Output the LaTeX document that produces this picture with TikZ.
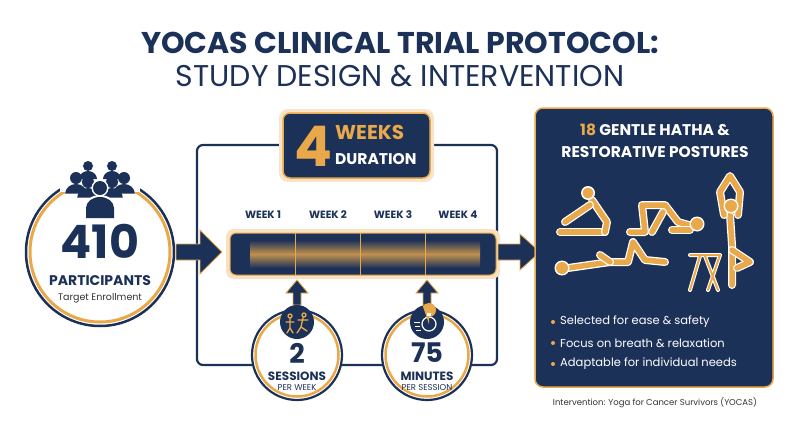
\documentclass[tikz,border=0pt]{standalone}
\usepackage{fontspec}
\setmainfont{Poppins}
\definecolor{navy}{HTML}{1C3158}
\definecolor{gold}{HTML}{E9A94B}
\definecolor{txt}{HTML}{333333}
\begin{document}
\begin{tikzpicture}[x=1pt,y=-1pt,every node/.style={inner sep=0pt},
 nv/.style={draw=navy,line width=2.2pt},
 lbl/.style={text=navy,font=\bfseries},
 fig/.style={draw=white,line width=8pt,line cap=round,line join=round,postaction={draw=gold,line width=5.5pt,line cap=round,line join=round}},
 arr/.style={fill=navy,draw=gold,line width=0.8pt}]
\useasboundingbox (0,0) rectangle (800,447);
\fill[white] (0,0) rectangle (800,447);
% title
\node[lbl,font=\bfseries\fontsize{30}{30}\selectfont] (t1) at (400,43) {YOCAS CLINICAL TRIAL PROTOCOL:};
\node[text=navy,font=\fontsize{30}{30}\selectfont] (t2) at (400,76) {STUDY DESIGN \& INTERVENTION};
% frame
\draw[nv,rounded corners=6] (197,145) rectangle (497,365);
% participants circle
\fill[white] (100,252) circle (75);
\draw[navy,line width=2.5pt] (100,252) circle (74);
\draw[gold,line width=3pt] (100,252) circle (70);
\fill[white] (60,160) rectangle (140,192);
\node[lbl,font=\bfseries\fontsize{46}{46}\selectfont] (n410) at (100,241) {410};
\node[lbl,font=\bfseries\fontsize{14}{14}\selectfont] (np) at (100,281) {PARTICIPANTS};
\node[text=txt,font=\fontsize{9.5}{9.5}\selectfont] (nt) at (100,298) {Target Enrollment};
% people icon
\foreach \x/\y/\r in {88/166/5,112/166/5,76/178/6,124/178/6,88/182/6,112/182/6}{
 \fill[navy] (\x,\y) circle (\r);
 \fill[navy] ({\x-1.8*\r},{\y+2.6*\r}) arc(180:360:{1.8*\r} and {1.6*\r}) -- cycle;}
\fill[white] (100,188) circle (8.5);
\fill[navy] (100,188) circle (7);
\fill[white] (84,219) -- (84,208) arc(180:360:16 and 13) -- (116,219) -- cycle;
\fill[navy] (86,218) -- (86,208) arc(180:360:14 and 11) -- (114,218) -- cycle;
% arrow in
\draw[arr] (176,244) -- (200,244) -- (200,230) -- (222,252) -- (200,274) -- (200,260) -- (176,260) -- cycle;
% 4 weeks box
\fill[gold!30,rounded corners=9] (279,109) rectangle (434,182);
\draw[fill=navy,draw=gold,line width=1.5pt,rounded corners=7] (283,113) rectangle (430,178);
\node[text=gold,font=\bfseries\fontsize{56}{56}\selectfont] (n4) at (313,146) {4};
\node[text=gold,font=\bfseries\fontsize{20}{20}\selectfont,anchor=west] (nw) at (335,132) {WEEKS};
\node[text=white,font=\bfseries\fontsize{15.5}{15.5}\selectfont,anchor=west] (nd) at (335,159) {DURATION};
% weeks
\foreach \i/\x in {1/263,2/328,3/393,4/458}
 \node[lbl,font=\bfseries\fontsize{10.5}{10.5}\selectfont] (w\i) at (\x,215) {WEEK \i};
\fill[gold!35,rounded corners=8] (226,229) rectangle (500,279);
\draw[fill=navy,draw=gold,line width=1pt,rounded corners=6] (230,233) rectangle (496,275);
\shade[top color=navy,bottom color=navy,middle color=gold!80!navy] (250,240) rectangle (480,268);
\foreach \x in {295,360,425} \draw[gold,line width=1pt] (\x,233) -- (\x,275);
% out arrow
\draw[arr] (498,244) -- (520,244) -- (520,234) -- (540,252) -- (520,270) -- (520,260) -- (498,260) -- cycle;
% small circles
\foreach \cx/\big/\a/\b in {297/2/SESSIONS/PER WEEK,427/75/MINUTES/PER SESSION}{
 \fill[white] (\cx,355) circle (46);
 \draw[navy,line width=2.2pt] (\cx,355) circle (45);
 \draw[gold,line width=2.5pt] (\cx,355) circle (41.5);
 \draw[arr] (\cx-4,305) -- (\cx-4,293) -- (\cx-11,293) -- (\cx,280) -- (\cx+11,293) -- (\cx+4,293) -- (\cx+4,305) -- cycle;
 \fill[navy] (\cx,322) circle (17);
 \node[lbl,font=\bfseries\fontsize{27}{27}\selectfont] at (\cx,353) {\big};
 \node[lbl,font=\bfseries\fontsize{12}{12}\selectfont] at (\cx,376) {\a};
 \node[text=navy,font=\fontsize{8.5}{8.5}\selectfont] at (\cx,388) {\b};}
% yoga icon
\draw[gold,line width=1.3pt,line cap=round] (290,316) circle (2) (290,319) -- (290,328) (286,322)--(294,322) (290,328)--(287,333) (290,328)--(293,333);
\draw[gold,line width=1.3pt,line cap=round] (304,315) circle (2) (303,318) -- (301,327) (298,320)--(308,320) (301,327)--(297,333) (301,327)--(307,331);
% stopwatch icon
\draw[white,line width=1.2pt] (429,324) circle (7);
\fill[gold] (429,324) -- (429,317) arc(90:-150:7) -- cycle;
\fill[white] (427,313) rectangle (431,316);
\draw[white,line width=1pt] (414,322)--(420,322) (415,326)--(420,326) (416,330)--(421,330);
% right panel
\draw[fill=navy,draw=gold,line width=1.5pt,rounded corners=8] (535,108) rectangle (773,387);
\node[text=white,font=\bfseries\fontsize{15.5}{15.5}\selectfont] (p1) at (655,130) {\textcolor{gold}{18} GENTLE HATHA \&};
\node[text=white,font=\bfseries\fontsize{15.5}{15.5}\selectfont] (p2) at (655,152) {RESTORATIVE POSTURES};
% figures: seated forward fold
\draw[fig] (560,232) -- (605,232);
\draw[fig] (605,232) -- (607,222) -- (592,200);
\draw[fig] (590,205) -- (565,222);
\fill[white] (588,193) circle (7); \fill[gold] (588,193) circle (5.5);
% bridge
\draw[fig] (630,232) -- (645,232) -- (642,205) -- (665,205) -- (678,222) -- (692,226);
\draw[fig] (652,232) -- (663,212);
\draw[fig] (672,230) -- (690,230);
\fill[white] (697,224) circle (7.5); \fill[gold] (697,224) circle (6);
% reclining
\draw[fig] (568,268) -- (610,262) -- (628,262) -- (633,242) -- (645,260) -- (665,262);
\draw[fig] (610,262) -- (600,255);
\fill[white] (562,268) circle (7.5); \fill[gold] (562,268) circle (6);
% chair
\draw[white,line width=4pt,line cap=round] (690,255) -- (720,255) (700,256) -- (690,290) (705,256)--(718,290) (720,255)--(708,290);
\draw[gold,line width=2pt,line cap=round] (690,255) -- (720,255) (700,256) -- (690,290) (705,256)--(718,290) (720,255)--(708,290);
% tree pose
\draw[fig] (732,245) -- (730,215) (732,245) -- (732,285);
\draw[fig] (732,250) -- (750,262) -- (737,268);
\draw[fig] (724,215) -- (720,192) -- (730,176) -- (740,192) -- (738,215);
\fill[white] (731,206) circle (7.5); \fill[gold] (731,206) circle (6);
% bullets
\foreach \y/\t in {322/Selected for ease \& safety,343/Focus on breath \& relaxation,364/Adaptable for individual needs}{
 \fill[gold] (553,\y) circle (2);
 \node[text=white,font=\fontsize{11.5}{11.5}\selectfont,anchor=west] at (560,\y) {\t};}
\node[text=txt,font=\fontsize{8.5}{8.5}\selectfont] (cap) at (655,403) {Intervention: Yoga for Cancer Survivors (YOCAS)};
\end{tikzpicture}
\end{document}
